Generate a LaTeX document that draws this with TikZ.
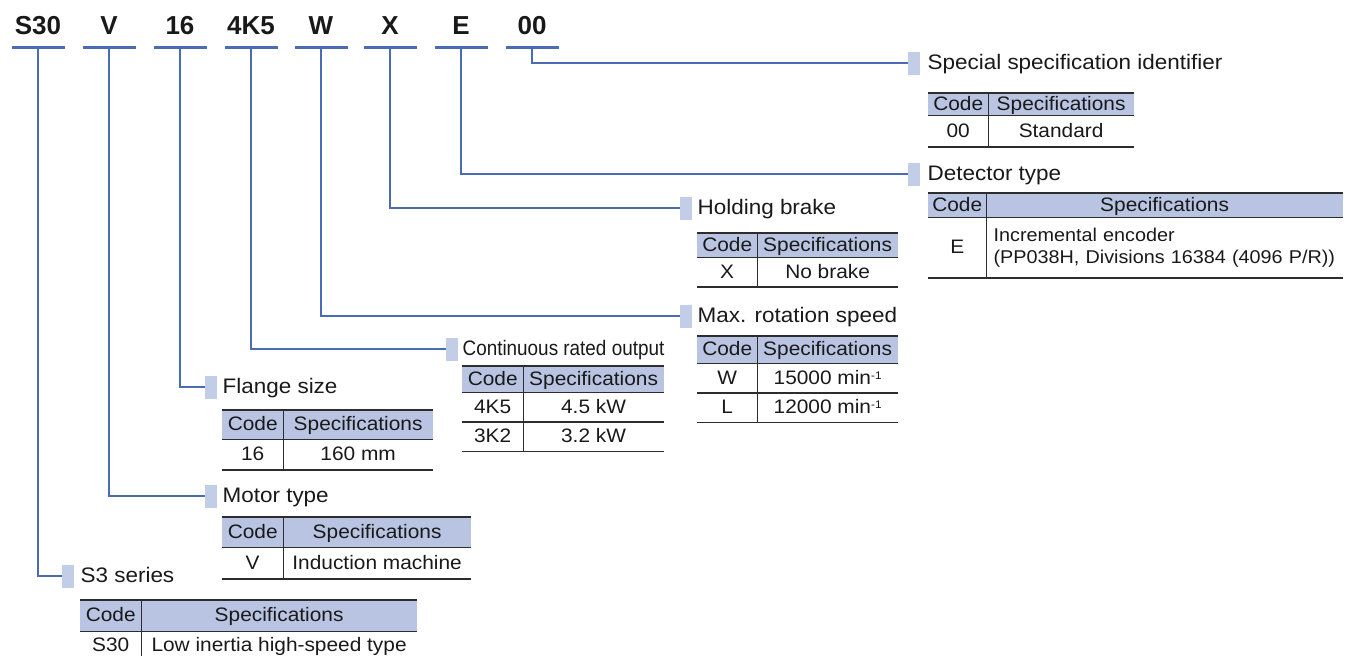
\documentclass[tikz,border=0pt]{standalone}
\usepackage{fontspec}
\setmainfont{Liberation Sans}[FakeStretch=1.07]
\newfontfamily\codefont{Liberation Sans}
\newfontfamily\narrowfont{Liberation Sans}[FakeStretch=0.9]
\usetikzlibrary{positioning}
\definecolor{linkblue}{RGB}{74,108,180}
\definecolor{headblue}{RGB}{184,196,226}
\definecolor{markblue}{RGB}{194,205,231}
\definecolor{rulegray}{RGB}{45,45,45}
\definecolor{inkblack}{RGB}{25,25,25}

\begin{document}
\begin{tikzpicture}
    [x=1pt, y=-1pt, text=inkblack,
    code/.style={font=\codefont\bfseries\fontsize{26}{30}\selectfont, inner sep=0pt},
    bar/.style={fill=linkblue, minimum width=53pt, minimum height=3pt, inner sep=0pt},
    link/.style={draw=linkblue, line width=1.2pt},
    marker/.style={fill=markblue, minimum width=12pt, minimum height=23pt, inner sep=0pt},
    title/.style={font=\fontsize{21}{24}\selectfont, inner sep=0pt, text height=17pt, text depth=4pt},
    head/.style={fill=headblue, inner sep=0pt, text height=16pt, text depth=4pt, font=\fontsize{19.5}{23}\selectfont},
    cell/.style={inner sep=0pt, text height=16pt, text depth=4pt, font=\fontsize{19.5}{23}\selectfont},
    block/.style={inner sep=0pt, align=left, font=\fontsize{18.5}{22.5}\selectfont},
    rule/.style={draw=rulegray, line width=1.4pt}]

    \useasboundingbox (0,0) rectangle (1355,656);

        %% Type code
    \node[code] (kS30) at (38,26) {S30};
    \node[code] (kV) at (109,26) {V};
    \node[code] (k16) at (180,26) {16};
    \node[code] (k4K5) at (251,26) {4K5};
    \node[code] (kW) at (321,26) {W};
    \node[code] (kX) at (390,26) {X};
    \node[code] (kE) at (461,26) {E};
    \node[code] (k00) at (532,26) {00};
    \node[bar] (bS30) at (38,47) {};
    \node[bar] (bV) at (109,47) {};
    \node[bar] (b16) at (180,47) {};
    \node[bar] (b4K5) at (251,47) {};
    \node[bar] (bW) at (321,47) {};
    \node[bar] (bX) at (390,47) {};
    \node[bar] (bE) at (461,47) {};
    \node[bar] (b00) at (532,47) {};

        %% Special specification identifier
    \node[marker, anchor=west] (spM) at (908,63) {};
    \node[title, right=7pt of spM] (spT) {Special specification identifier};
    \node[head, minimum width=60, minimum height=22, anchor=north west] (spHC) at (928,93) {Code};
    \node[head, minimum width=145, minimum height=22, right=0pt of spHC] (spHS) {Specifications};
    \node[cell, minimum width=60, minimum height=31, below=0pt of spHC] (spC1) {00};
    \node[cell, minimum width=145, minimum height=31, right=0pt of spC1] (spS1) {Standard};
    \draw[rule] (spHC.north west) -- (spHS.north east);
    \draw[rule] (spHC.south west) -- (spHS.south east);
    \draw[rule] (spC1.south west) -- (spS1.south east);
    \draw[rule] (spHC.north east) -- (spC1.south east);

        %% Detector type
    \node[marker, anchor=west] (dtM) at (908,174) {};
    \node[title, right=7pt of dtM] (dtT) {Detector type};
    \node[head, minimum width=58, minimum height=24, anchor=north west] (dtHC) at (928,193) {Code};
    \node[head, minimum width=356, minimum height=24, right=0pt of dtHC] (dtHS) {Specifications};
    \node[cell, minimum width=58, minimum height=60, below=0pt of dtHC] (dtC1) {E};
    \node[block, minimum width=356, minimum height=60, text width=342, right=0pt of dtC1] (dtS1)
          {Incremental encoder\\(PP038H, Divisions 16384 (4096 P/R))};
    \draw[rule] (dtHC.north west) -- (dtHS.north east);
    \draw[rule] (dtHC.south west) -- (dtHS.south east);
    \draw[rule] (dtC1.south west) -- (dtS1.south east);
    \draw[rule] (dtHC.north east) -- (dtC1.south east);

        %% Holding brake
    \node[marker, anchor=west] (hbM) at (680,208) {};
    \node[title, right=5pt of hbM] (hbT) {Holding brake};
    \node[head, minimum width=60, minimum height=24, anchor=north west] (hbHC) at (697,233) {Code};
    \node[head, minimum width=140, minimum height=24, right=0pt of hbHC] (hbHS) {Specifications};
    \node[cell, minimum width=60, minimum height=29, below=0pt of hbHC] (hbC1) {X};
    \node[cell, minimum width=140, minimum height=29, right=0pt of hbC1] (hbS1) {No brake};
    \draw[rule] (hbHC.north west) -- (hbHS.north east);
    \draw[rule] (hbHC.south west) -- (hbHS.south east);
    \draw[rule] (hbC1.south west) -- (hbS1.south east);
    \draw[rule] (hbHC.north east) -- (hbC1.south east);

        %% Max. rotation speed
    \node[marker, anchor=west] (mrM) at (680,316) {};
    \node[title, right=5pt of mrM] (mrT) {Max. rotation speed};
    \node[head, minimum width=60, minimum height=27, anchor=north west] (mrHC) at (697,336) {Code};
    \node[head, minimum width=140, minimum height=27, right=0pt of mrHC] (mrHS) {Specifications};
    \node[cell, minimum width=60, minimum height=29, below=0pt of mrHC] (mrC1) {W};
    \node[cell, minimum width=140, minimum height=29, right=0pt of mrC1] (mrS1) {15000 min{\fontsize{11}{11}\selectfont\raisebox{5pt}{-1}}};
    \node[cell, minimum width=60, minimum height=29, below=0pt of mrC1] (mrC2) {L};
    \node[cell, minimum width=140, minimum height=29, right=0pt of mrC2] (mrS2) {12000 min{\fontsize{11}{11}\selectfont\raisebox{5pt}{-1}}};
    \draw[rule] (mrHC.north west) -- (mrHS.north east);
    \draw[rule] (mrHC.south west) -- (mrHS.south east);
    \draw[rule] (mrC1.south west) -- (mrS1.south east);
    \draw[rule] (mrC2.south west) -- (mrS2.south east);
    \draw[rule] (mrHC.north east) -- (mrC2.south east);

        %% Continuous rated output
    \node[marker, anchor=west] (coM) at (446,349) {};
    \node[title, font=\narrowfont\fontsize{21}{24}\selectfont, right=4pt of coM] (coT) {Continuous rated output};
    \node[head, minimum width=61, minimum height=26, anchor=north west] (coHC) at (462,366) {Code};
    \node[head, minimum width=140, minimum height=26, right=0pt of coHC] (coHS) {Specifications};
    \node[cell, minimum width=61, minimum height=29, below=0pt of coHC] (coC1) {4K5};
    \node[cell, minimum width=140, minimum height=29, right=0pt of coC1] (coS1) {4.5 kW};
    \node[cell, minimum width=61, minimum height=29, below=0pt of coC1] (coC2) {3K2};
    \node[cell, minimum width=140, minimum height=29, right=0pt of coC2] (coS2) {3.2 kW};
    \draw[rule] (coHC.north west) -- (coHS.north east);
    \draw[rule] (coHC.south west) -- (coHS.south east);
    \draw[rule] (coC1.south west) -- (coS1.south east);
    \draw[rule] (coC2.south west) -- (coS2.south east);
    \draw[rule] (coHC.north east) -- (coC2.south east);

        %% Flange size
    \node[marker, anchor=west] (flM) at (205,387) {};
    \node[title, right=5pt of flM] (flT) {Flange size};
    \node[head, minimum width=61, minimum height=29, anchor=north west] (flHC) at (222,410) {Code};
    \node[head, minimum width=149, minimum height=29, right=0pt of flHC] (flHS) {Specifications};
    \node[cell, minimum width=61, minimum height=30, below=0pt of flHC] (flC1) {16};
    \node[cell, minimum width=149, minimum height=30, right=0pt of flC1] (flS1) {160 mm};
    \draw[rule] (flHC.north west) -- (flHS.north east);
    \draw[rule] (flHC.south west) -- (flHS.south east);
    \draw[rule] (flC1.south west) -- (flS1.south east);
    \draw[rule] (flHC.north east) -- (flC1.south east);

        %% Motor type
    \node[marker, anchor=west] (mtM) at (205,496) {};
    \node[title, right=5pt of mtM] (mtT) {Motor type};
    \node[head, minimum width=61, minimum height=30, anchor=north west] (mtHC) at (222,517) {Code};
    \node[head, minimum width=187, minimum height=30, right=0pt of mtHC] (mtHS) {Specifications};
    \node[cell, minimum width=61, minimum height=31, below=0pt of mtHC] (mtC1) {V};
    \node[cell, minimum width=187, minimum height=31, right=0pt of mtC1] (mtS1) {Induction machine};
    \draw[rule] (mtHC.north west) -- (mtHS.north east);
    \draw[rule] (mtHC.south west) -- (mtHS.south east);
    \draw[rule] (mtC1.south west) -- (mtS1.south east);
    \draw[rule] (mtHC.north east) -- (mtC1.south east);

        %% S3 series
    \node[marker, anchor=west] (s3M) at (62,576) {};
    \node[title, right=6pt of s3M] (s3T) {S3 series};
    \node[head, minimum width=61, minimum height=31, anchor=north west] (s3HC) at (80,600) {Code};
    \node[head, minimum width=275, minimum height=31, right=0pt of s3HC] (s3HS) {Specifications};
    \node[cell, minimum width=61, minimum height=28, below=0pt of s3HC] (s3C1) {S30};
    \node[cell, minimum width=275, minimum height=28, right=0pt of s3C1] (s3S1) {Low inertia high-speed type};
    \draw[rule] (s3HC.north west) -- (s3HS.north east);
    \draw[rule] (s3HC.south west) -- (s3HS.south east);
    \draw[rule] (s3HC.north east) -- (s3C1.south east);

        %% Leader lines
    \draw[link] (b00.south) |- (spM.west);
    \draw[link] (bE.south) |- (dtM.west);
    \draw[link] (bX.south) |- (hbM.west);
    \draw[link] (bW.south) |- (mrM.west);
    \draw[link] (b4K5.south) |- (coM.west);
    \draw[link] (b16.south) |- (flM.west);
    \draw[link] (bV.south) |- (mtM.west);
    \draw[link] (bS30.south) |- (s3M.west);
\end{tikzpicture}
\end{document}
